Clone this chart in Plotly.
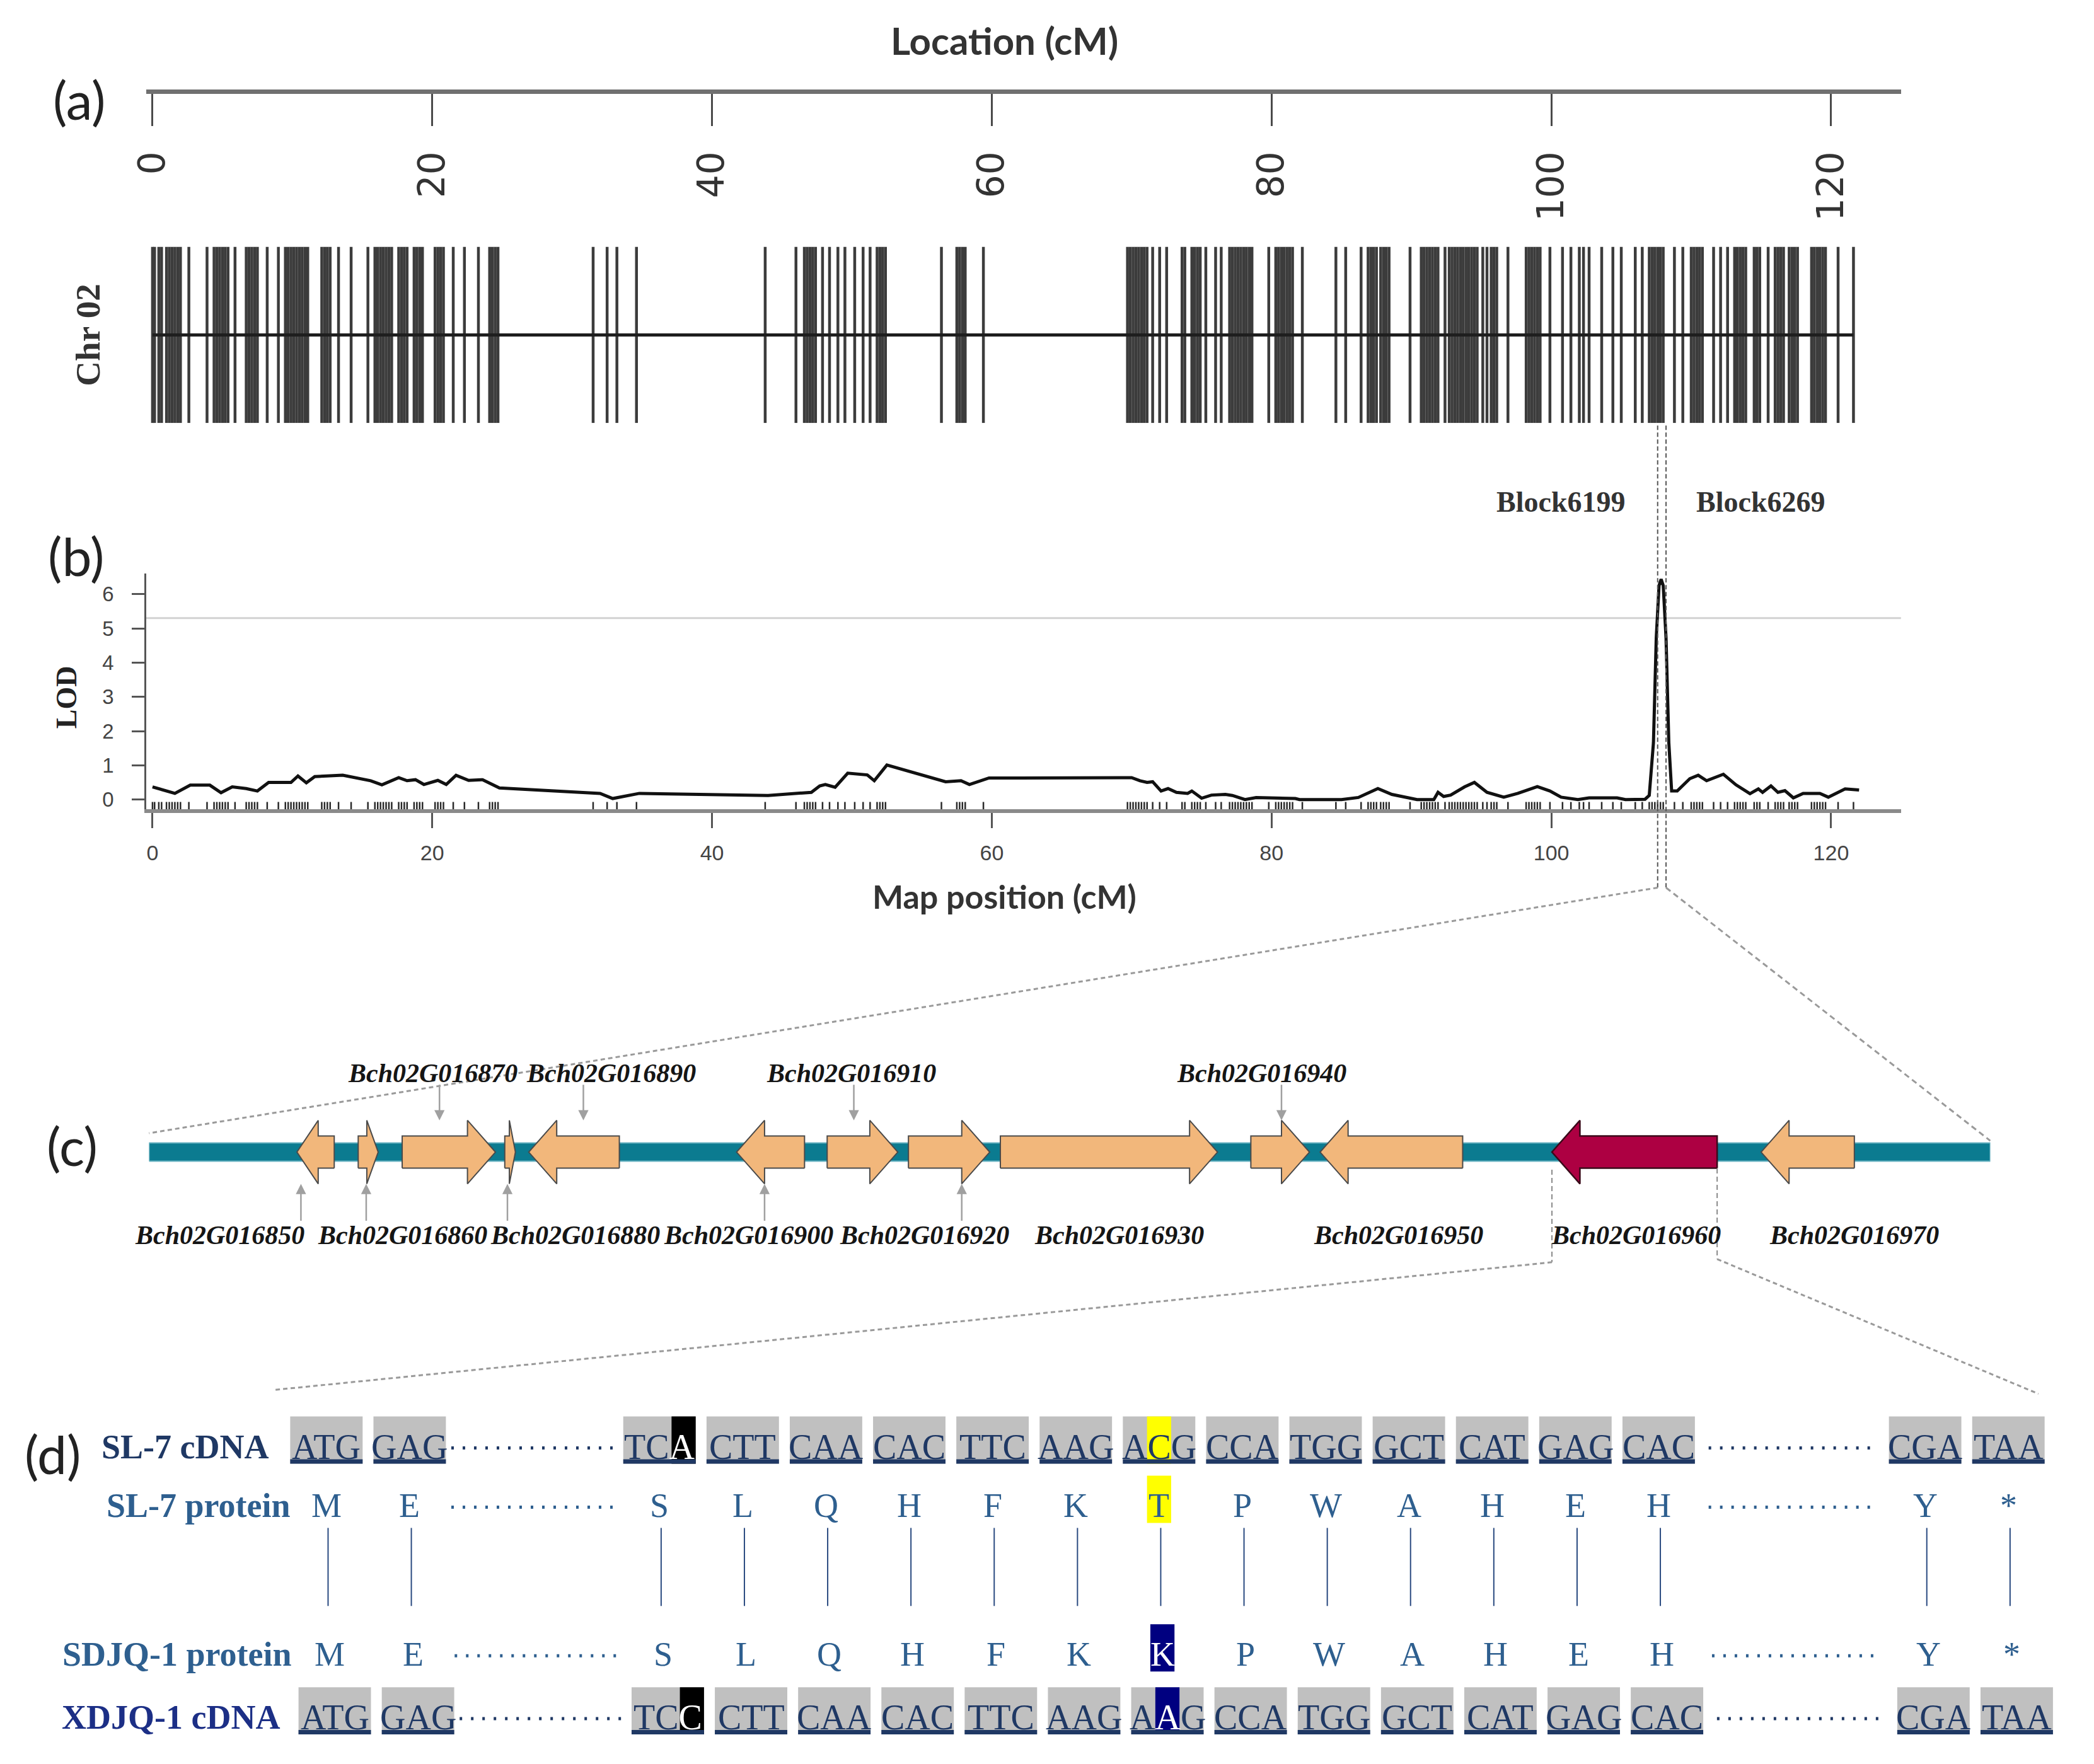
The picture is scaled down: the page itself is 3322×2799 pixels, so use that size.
import plotly.graph_objects as go

W, H = 3322, 2799
# compensation for the page offset observed in the rendered screenshot
OFF_X, OFF_Y = 29, 8


def px(x):
    return (x - OFF_X) / W


def py(y):
    return 1 - (y - OFF_Y) / H


# ---------------- (a)/(b) genetic map data ----------------
MARKERS_CM = [
    0.0, 0.15, 0.45, 0.65, 1.0, 1.2, 1.4, 1.6, 1.8, 2.0, 2.6, 3.9,
    4.4, 4.6, 4.8, 5.0, 5.2, 5.4, 5.9, 6.7, 6.9, 7.1, 7.3, 7.5, 8.2, 9.0,
    9.5, 9.7, 9.9, 10.1, 10.3, 10.5, 10.7, 10.9, 11.1, 12.1, 12.3, 12.5, 12.7,
    13.3, 14.2, 15.4, 15.9, 16.1, 16.3, 16.5, 16.7, 16.9, 17.1, 17.6, 17.8, 18.0, 18.2,
    18.7, 18.9, 19.1, 19.3, 20.2, 20.4, 20.6, 20.8, 21.5, 22.3, 23.3, 24.1, 24.3, 24.5, 24.7,
    31.5, 32.5, 33.2, 34.6, 43.8, 46.0, 46.6, 46.8, 47.0, 47.2, 47.4, 47.9, 48.4, 49.0, 49.5,
    50.2, 50.8, 51.3, 51.8, 52.0, 52.2, 52.4, 56.4, 57.5, 57.7, 57.9, 58.1, 59.4,
    69.7, 69.9, 70.1, 70.3, 70.5, 70.7, 70.9, 71.1, 71.5, 72.0, 72.5, 73.6, 73.8,
    74.3, 74.5, 74.7, 74.9, 75.3, 76.0, 76.4, 77.0, 77.2, 77.4, 77.6, 77.8, 78.0, 78.2,
    78.4, 78.6, 79.8, 80.3, 80.5, 80.7, 80.9, 81.1, 81.3, 81.5, 82.2, 84.6, 85.3, 86.4,
    86.9, 87.1, 87.3, 87.5, 87.8, 88.0, 88.2, 88.4, 89.9, 90.7, 90.9, 91.1, 91.3, 91.5,
    91.7, 91.9, 92.4, 92.7, 92.9, 93.1, 93.3, 93.5, 93.7, 93.9, 94.1, 94.3, 94.5, 94.7,
    95.1, 95.4, 95.7, 95.9, 96.1, 96.9, 98.2, 98.4, 98.6, 98.8, 99.0, 99.2, 99.9, 100.8,
    101.4, 102.0, 102.3, 102.7, 103.6, 104.4, 105.0, 106.0, 106.5, 107.0, 107.2, 107.4,
    107.6, 107.8, 108.0, 108.8, 109.4, 110.0, 110.2, 110.4, 110.6, 110.8, 111.6, 112.1,
    112.6, 113.1, 113.3, 113.5, 113.7, 113.9, 114.5, 114.7, 114.9, 115.5, 116.0, 116.2,
    116.4, 116.6, 117.0, 117.2, 117.4, 117.6, 118.6, 118.8, 119.0, 119.2, 119.4, 119.6,
    120.5, 121.6,
]
CHR_END_CM = 121.6
CHR_NAME = "Chr 02"
CM_TICKS = [0, 20, 40, 60, 80, 100, 120]

LOD_CM = [
    0.0, 0.7, 1.6, 2.7, 4.1, 4.9, 5.7, 6.7, 7.5, 8.3, 9.9, 10.4, 11.0, 11.6, 13.6,
    15.6, 16.4, 17.6, 18.2, 18.8, 19.4, 20.4, 21.0, 21.7, 22.6, 23.6, 24.8, 32.0,
    32.9, 34.8, 44.0, 47.1, 47.7, 48.1, 48.8, 49.7, 51.1, 51.6, 52.5, 56.7, 57.8,
    58.4, 59.8, 62.0, 70.0, 70.6, 71.1, 71.5, 72.1, 72.6, 73.2, 74.0, 74.3, 75.0,
    75.7, 76.7, 77.2, 78.1, 78.9, 81.7, 82.0, 85.0, 86.2, 87.6, 88.6, 90.4, 91.6,
    91.9, 92.3, 92.8, 93.8, 94.5, 95.4, 96.6, 97.6, 99.0, 99.9, 100.7, 101.9, 102.7,
    104.7, 105.3, 106.7, 107.0, 107.3, 107.5, 107.7, 107.85, 108.0, 108.2, 108.4,
    108.6, 109.0, 109.9, 110.5, 111.1, 111.5, 112.3, 113.2, 114.2, 114.8, 115.1,
    115.7, 116.2, 116.7, 117.3, 118.0, 119.2, 119.8, 121.0, 122.0,
]
LOD_VALUES = [
    0.37, 0.28, 0.18, 0.42, 0.42, 0.20, 0.37, 0.32, 0.25, 0.50, 0.50, 0.69, 0.49, 0.67, 0.71,
    0.55, 0.43, 0.64, 0.55, 0.58, 0.44, 0.56, 0.44, 0.71, 0.56, 0.58, 0.34, 0.18,
    0.03, 0.18, 0.12, 0.21, 0.40, 0.44, 0.36, 0.77, 0.72, 0.55, 1.01, 0.52, 0.55,
    0.44, 0.63, 0.63, 0.64, 0.55, 0.50, 0.52, 0.25, 0.32, 0.21, 0.18, 0.25, 0.04,
    0.13, 0.15, 0.12, 0.00, 0.06, 0.03, 0.00, 0.00, 0.06, 0.32, 0.15, 0.00, 0.00,
    0.21, 0.09, 0.13, 0.37, 0.50, 0.21, 0.07, 0.18, 0.38, 0.25, 0.07, 0.00, 0.05,
    0.05, 0.00, 0.01, 0.12, 1.66, 4.72, 6.25, 6.44, 6.25, 4.72, 1.66,
    0.25, 0.25, 0.61, 0.71, 0.55, 0.61, 0.74, 0.43, 0.17, 0.31, 0.21,
    0.40, 0.21, 0.26, 0.05, 0.18, 0.18, 0.07, 0.31, 0.28,
]
LOD_TICKS = [0, 1, 2, 3, 4, 5, 6]
LOD_THRESHOLD = 5.3
BLOCK_NAMES = ["Block6199", "Block6269"]
BLOCK_CM = [107.6, 108.2]

# ---------------- (c) gene models ----------------
REGION_KB = [0.0, 276.4]
GENE_IDS = ["Bch02G016850", "Bch02G016860", "Bch02G016870", "Bch02G016880",
            "Bch02G016890", "Bch02G016900", "Bch02G016910", "Bch02G016920",
            "Bch02G016930", "Bch02G016940", "Bch02G016950", "Bch02G016960",
            "Bch02G016970"]
GENE_START_KB = [22.2, 31.4, 38.0, 53.4, 57.0, 88.2, 101.8, 114.0, 127.8, 165.4, 175.8, 210.6, 242.0]
GENE_END_KB = [27.8, 34.4, 52.0, 55.0, 70.6, 98.4, 112.4, 126.2, 160.4, 174.2, 197.2, 235.4, 256.0]
GENE_STRAND = ["-", "+", "+", "+", "-", "-", "+", "+", "+", "+", "-", "-", "-"]
GENE_LABEL_KB = [10.6, 38.0, 42.6, 64.0, 69.4, 90.0, 105.4, 116.4, 145.6, 167.0, 187.6, 223.2, 256.0]
GENE_LABEL_SIDE = ["bottom", "bottom", "top", "bottom", "top", "bottom", "top", "bottom",
                   "bottom", "top", "bottom", "bottom", "bottom"]
GENE_POINTER_KB = [22.8, 32.6, 43.6, 53.8, 65.2, 92.4, 105.8, 122.0, None, 170.0, None, None, None]
CANDIDATE_GENE = "Bch02G016960"

# ---------------- (d) sequences ----------------
GAP = "…"
ROW_NAMES = ["SL-7 cDNA", "SL-7 protein", "SDJQ-1 protein", "XDJQ-1 cDNA"]
SL7_CDNA = ["ATG", "GAG", GAP, "TCA", "CTT", "CAA", "CAC", "TTC", "AAG", "ACG", "CCA",
            "TGG", "GCT", "CAT", "GAG", "CAC", GAP, "CGA", "TAA"]
SL7_PROTEIN = ["M", "E", GAP, "S", "L", "Q", "H", "F", "K", "T", "P", "W", "A", "H",
               "E", "H", GAP, "Y", "*"]
SDJQ1_PROTEIN = ["M", "E", GAP, "S", "L", "Q", "H", "F", "K", "K", "P", "W", "A", "H",
                 "E", "H", GAP, "Y", "*"]
XDJQ1_CDNA = ["ATG", "GAG", GAP, "TCC", "CTT", "CAA", "CAC", "TTC", "AAG", "AAG", "CCA",
              "TGG", "GCT", "CAT", "GAG", "CAC", GAP, "CGA", "TAA"]
# (codon index, base index, kind)
SL7_NT_MARKS = [(3, 2, "syn"), (9, 1, "snp")]
XDJQ1_NT_MARKS = [(3, 2, "syn"), (9, 1, "snp")]
# (residue index)
SL7_AA_MARKS = [9]
SDJQ1_AA_MARKS = [9]

# ---------------- layout constants ----------------
CM_RANGE = [-0.45, 125.0]
CM_PX0, CM_PX_PER = 239.5, 22.36
KB_PX0, KB_PX_PER = 234.0, 10.648
COL_PX0, COL_PX_PER = 517.5, 133.1
COL_STEP = 1.0
GAP_SPANS = [2.0, 2.2]
HEAD_KB = 4.2
BODY_H, HEAD_H, BAR_H = 0.364, 0.72, 0.207
ROW_Y = [2294, 2388, 2624, 2724]
ROW_SHIFT = [0.0, 0.0, 0.04, 0.1]
LABEL_RIGHT = [428, 462, 464, 445]

NAVY = "#1f3864"
STEEL = "#2e5f8f"
SERIF = "Liberation Serif"
SANS = "Liberation Sans"
TITLE = "Lato"

cm_dom = [px(CM_PX0 + CM_RANGE[0] * CM_PX_PER), px(CM_PX0 + CM_RANGE[1] * CM_PX_PER)]


def cm_to_paper(cm):
    return px(CM_PX0 + cm * CM_PX_PER)


def kb_to_paper(kb):
    return px(KB_PX0 + kb * KB_PX_PER)


fig = go.Figure()

# ---- (a) barcode ----
bx, by = [], []
for m in MARKERS_CM:
    bx += [m, m, None]
    by += [0, 1, None]
fig.add_trace(go.Scatter(x=bx, y=by, mode="lines", line=dict(color="#3c3c3c", width=4.5),
                         xaxis="x", yaxis="y", hoverinfo="skip", showlegend=False))
fig.add_trace(go.Scatter(x=[0, CHR_END_CM], y=[0.5, 0.5], mode="lines",
                         line=dict(color="#1e1e1e", width=5),
                         xaxis="x", yaxis="y", hoverinfo="skip", showlegend=False))
# carrier traces so the ruler axes (x5, x6) are drawn
for xa in ["x5", "x6"]:
    fig.add_trace(go.Scatter(x=CM_TICKS, y=[0.5] * len(CM_TICKS), mode="markers",
                             marker=dict(opacity=0), xaxis=xa, yaxis="y",
                             hoverinfo="skip", showlegend=False))

# ---- (b) LOD ----
fig.add_trace(go.Scatter(x=CM_RANGE, y=[LOD_THRESHOLD, LOD_THRESHOLD], mode="lines",
                         line=dict(color="#d2d2d2", width=3),
                         xaxis="x2", yaxis="y2", hoverinfo="skip", showlegend=False))
rx, ry = [], []
for m in MARKERS_CM:
    rx += [m, m, None]
    ry += [-0.07, -0.29, None]
fig.add_trace(go.Scatter(x=rx, y=ry, mode="lines", line=dict(color="#2a2a2a", width=2.5),
                         xaxis="x2", yaxis="y2", hoverinfo="skip", showlegend=False))
fig.add_trace(go.Scatter(x=LOD_CM, y=LOD_VALUES, mode="lines",
                         line=dict(color="#111111", width=5),
                         xaxis="x2", yaxis="y2", hoverinfo="skip", showlegend=False))

# ---- (c) gene models ----
fig.add_trace(go.Scatter(x=[REGION_KB[0], REGION_KB[1], REGION_KB[1], REGION_KB[0], REGION_KB[0]],
                         y=[-BAR_H, -BAR_H, BAR_H, BAR_H, -BAR_H], mode="lines", fill="toself",
                         fillcolor="#0b7b90", line=dict(color="#6bb3c2", width=2),
                         xaxis="x3", yaxis="y3", hoverinfo="skip", showlegend=False))


def arrow_poly(s, e, strand):
    L = e - s
    h = min(HEAD_KB, 0.57 * L)
    if strand == "+":
        xs = [s, e - h, e - h, e, e - h, e - h, s, s]
    else:
        xs = [e, s + h, s + h, s, s + h, s + h, e, e]
    ys = [-BODY_H, -BODY_H, -HEAD_H, 0, HEAD_H, BODY_H, BODY_H, -BODY_H]
    return xs, ys


ox, oy = [], []
for gid, s, e, st in zip(GENE_IDS, GENE_START_KB, GENE_END_KB, GENE_STRAND):
    xs, ys = arrow_poly(s, e, st)
    if gid == CANDIDATE_GENE:
        fig.add_trace(go.Scatter(x=xs, y=ys, mode="lines", fill="toself", fillcolor="#ad0042",
                                 line=dict(color="#3a0a1a", width=2.5),
                                 xaxis="x3", yaxis="y3", hoverinfo="skip", showlegend=False))
    else:
        ox += xs + [None]
        oy += ys + [None]
fig.add_trace(go.Scatter(x=ox, y=oy, mode="lines", fill="toself", fillcolor="#f2b77b",
                         line=dict(color="#4a4a4a", width=2),
                         xaxis="x3", yaxis="y3", hoverinfo="skip", showlegend=False))


# ---- (d) column positions ----
def column_positions(tokens):
    pos, cur, prev, gi = [], 0.0, None, 0
    for t in tokens:
        if t == GAP:
            w = GAP_SPANS[min(gi, len(GAP_SPANS) - 1)]
            gi += 1
        else:
            w = COL_STEP
        if prev is not None:
            cur += 0.5 * prev + 0.5 * w
        pos.append(cur)
        prev = w
    return pos


col_pos = column_positions(SL7_CDNA)
fig.add_trace(go.Scatter(x=col_pos, y=[0] * len(col_pos), mode="markers",
                         marker=dict(opacity=0), xaxis="x4", yaxis="y4",
                         hoverinfo="skip", showlegend=False))

shapes = []
ann = []

# ---- dashed block lines and zoom guides ----
for cm in BLOCK_CM:
    shapes.append(dict(type="line", xref="x", yref="paper", x0=cm, x1=cm, y0=py(676), y1=py(1410),
                       line=dict(color="#555555", width=2, dash="7px,4px")))
shapes.append(dict(type="line", xref="paper", yref="paper",
                   x0=cm_to_paper(BLOCK_CM[0]), y0=py(1410), x1=kb_to_paper(REGION_KB[0]), y1=py(1800),
                   line=dict(color="#9a9a9a", width=3, dash="7px,5px")))
shapes.append(dict(type="line", xref="paper", yref="paper",
                   x0=cm_to_paper(BLOCK_CM[1]), y0=py(1410), x1=kb_to_paper(REGION_KB[1]), y1=py(1812),
                   line=dict(color="#9a9a9a", width=3, dash="9px,6px")))
ci = GENE_IDS.index(CANDIDATE_GENE)
for kb, ytop, ybot, xend, yend in [(GENE_START_KB[ci], 1858, 2005, 432, 2208),
                                   (GENE_END_KB[ci], 1856, 2000, 3254, 2214)]:
    shapes.append(dict(type="line", xref="x3", yref="paper", x0=kb, x1=kb, y0=py(ytop), y1=py(ybot),
                       line=dict(color="#8a8a8a", width=2, dash="8px,5px")))
    shapes.append(dict(type="line", xref="paper", yref="paper", x0=kb_to_paper(kb), y0=py(ybot),
                       x1=px(xend), y1=py(yend), line=dict(color="#9a9a9a", width=3, dash="7px,5px")))

# ---- gene labels & pointers ----
for gid, lkb, side, pkb in zip(GENE_IDS, GENE_LABEL_KB, GENE_LABEL_SIDE, GENE_POINTER_KB):
    ann.append(dict(x=lkb, xref="x3", y=py(1705 if side == "top" else 1962), yref="paper",
                    text=f"<b><i>{gid}</i></b>", showarrow=False,
                    font=dict(family=SERIF, size=42, color="#151515"),
                    xanchor="center", yanchor="middle"))
    if pkb is not None:
        if side == "top":
            ann.append(dict(x=pkb, xref="x3", y=HEAD_H, yref="y3", ax=0, ay=-58, text="",
                            showarrow=True, arrowhead=2, arrowsize=1.3, arrowwidth=2.5,
                            arrowcolor="#a0a0a0"))
        else:
            ann.append(dict(x=pkb, xref="x3", y=-HEAD_H, yref="y3", ax=0, ay=60, text="",
                            showarrow=True, arrowhead=2, arrowsize=1.3, arrowwidth=2.5,
                            arrowcolor="#a0a0a0"))

# ---- (d) sequence rows ----
NT_COLORS = {"syn": ("#000000", "#ffffff"), "snp_SL": ("#ffff00", NAVY), "snp_XD": ("#000080", "#ffffff")}
BASE_OFFSET = [-0.29, 0.0, 0.29]


def text_at(x, y, txt, color, size):
    ann.append(dict(x=x, xref="x4", y=py(y + 4), yref="paper", text=txt, showarrow=False,
                    font=dict(family=SERIF, size=size, color=color),
                    xanchor="center", yanchor="middle"))


def dots(c, y, color):
    shapes.append(dict(type="line", xref="x4", yref="paper", x0=c - 1.0, x1=c + 1.0,
                       y0=py(y + 6), y1=py(y + 6), line=dict(color=color, width=5, dash="4px,14px")))


for r, tokens, marks, snpkind in [(0, SL7_CDNA, SL7_NT_MARKS, "snp_SL"), (3, XDJQ1_CDNA, XDJQ1_NT_MARKS, "snp_XD")]:
    y = ROW_Y[r]
    pos = column_positions(tokens)
    mk = {(ci_, bi): k for ci_, bi, k in marks}
    for i, (t, c) in enumerate(zip(tokens, pos)):
        c += ROW_SHIFT[r]
        if t == GAP:
            dots(c, y, NAVY)
            continue
        shapes.append(dict(type="rect", xref="x4", yref="paper", x0=c - 0.435, x1=c + 0.435,
                           y0=py(y + 31), y1=py(y - 44), fillcolor="#c0c0c0", line=dict(width=0),
                           layer="below"))
        parts = []
        for k, ch in enumerate(t):
            kind = mk.get((i, k))
            if kind:
                key = "syn" if kind == "syn" else snpkind
                bg, fg = NT_COLORS[key]
                lx = c + BASE_OFFSET[k]
                shapes.append(dict(type="rect", xref="x4", yref="paper", x0=lx - 0.145, x1=lx + 0.145,
                                   y0=py(y + 31), y1=py(y - 44), fillcolor=bg, line=dict(width=0),
                                   layer="below"))
                parts.append(f"<span style='color:{fg}'>{ch}</span>")
            else:
                parts.append(ch)
        text_at(c, y, "".join(parts), NAVY, 56)
        shapes.append(dict(type="rect", xref="x4", yref="paper", x0=c - 0.435, x1=c + 0.435,
                           y0=py(y + 31), y1=py(y + 24), fillcolor=NAVY, line=dict(width=0)))

for r, tokens, marks, bg, fg in [(1, SL7_PROTEIN, SL7_AA_MARKS, "#ffff00", STEEL),
                                 (2, SDJQ1_PROTEIN, SDJQ1_AA_MARKS, "#000080", "#ffffff")]:
    y = ROW_Y[r]
    pos = column_positions(tokens)
    for i, (t, c) in enumerate(zip(tokens, pos)):
        c += ROW_SHIFT[r]
        if t == GAP:
            dots(c, y, STEEL)
            continue
        col = STEEL
        if i in marks:
            shapes.append(dict(type="rect", xref="x4", yref="paper", x0=c - 0.145, x1=c + 0.145,
                               y0=py(y + 31), y1=py(y - 44), fillcolor=bg, line=dict(width=0),
                               layer="below"))
            col = fg
        text_at(c, y, t, col, 54)

# connectors between protein rows
for t, c in zip(SL7_PROTEIN, column_positions(SL7_PROTEIN)):
    if t == GAP:
        continue
    shapes.append(dict(type="line", xref="x4", yref="paper", x0=c + 0.02, x1=c + 0.02,
                       y0=py(2427), y1=py(2551), line=dict(color="#2a4a80", width=2)))

# row labels
ROW_LABEL_COLORS = [NAVY, STEEL, STEEL, "#1c2f86"]
for name, y, xr, colr in zip(ROW_NAMES, ROW_Y, LABEL_RIGHT, ROW_LABEL_COLORS):
    ann.append(dict(x=px(xr), xref="paper", y=py(y + 4), yref="paper", text=f"<b>{name}</b>",
                    showarrow=False, font=dict(family=SERIF, size=54, color=colr),
                    xanchor="right", yanchor="middle"))

# ---- titles and panel labels ----
ann += [
    dict(x=px(1601), y=py(64), xref="paper", yref="paper", text="<b>Location (cM)</b>", showarrow=False,
         font=dict(family=TITLE, size=60, color="#333333"), xanchor="center", yanchor="middle"),
    dict(x=px(1601), y=py(1424), xref="paper", yref="paper", text="<b>Map position (cM)</b>", showarrow=False,
         font=dict(family=TITLE, size=52, color="#333333"), xanchor="center", yanchor="middle"),
    dict(x=px(136), y=py(532), xref="paper", yref="paper", text=f"<b>{CHR_NAME}</b>", showarrow=False,
         textangle=-90, font=dict(family=SERIF, size=55, color="#333333"), xanchor="center", yanchor="middle"),
    dict(x=px(102), y=py(1107), xref="paper", yref="paper", text="<b>LOD</b>", showarrow=False,
         textangle=-90, font=dict(family=SERIF, size=46, color="#222222"), xanchor="center", yanchor="middle"),
    dict(x=BLOCK_CM[0], xref="x", xshift=-50, y=py(797), yref="paper", text=f"<b>{BLOCK_NAMES[0]}</b>",
         showarrow=False, font=dict(family=SERIF, size=46, color="#333333"), xanchor="right", yanchor="middle"),
    dict(x=BLOCK_CM[1], xref="x", xshift=46, y=py(797), yref="paper", text=f"<b>{BLOCK_NAMES[1]}</b>",
         showarrow=False, font=dict(family=SERIF, size=46, color="#333333"), xanchor="left", yanchor="middle"),
]
for lab, (lx, ly) in zip(["(a)", "(b)", "(c)", "(d)"], [(123, 158), (117, 882), (111, 1819), (80, 2309)]):
    ann.append(dict(x=px(lx), y=py(ly), xref="paper", yref="paper", text=lab, showarrow=False,
                    font=dict(family=TITLE, size=84, color="#222222"), xanchor="center", yanchor="middle"))

fig.update_layout(
    width=W, height=H, margin=dict(l=0, r=0, t=0, b=0),
    paper_bgcolor="white", plot_bgcolor="rgba(0,0,0,0)", showlegend=False,
    xaxis=dict(domain=cm_dom, range=CM_RANGE, visible=False, anchor="y"),
    yaxis=dict(domain=[py(672), py(392)], range=[0, 1], visible=False, anchor="x"),
    xaxis5=dict(overlaying="x", anchor="free", position=py(145), side="top", range=CM_RANGE,
                showline=True, linecolor="#707070", linewidth=7, ticks="inside", ticklen=51,
                tickwidth=2.5, tickcolor="#4a4a4a", tickvals=CM_TICKS, showticklabels=False,
                showgrid=False, zeroline=False),
    xaxis6=dict(overlaying="x", anchor="free", position=py(228), side="bottom", range=CM_RANGE,
                showline=False, ticks="", tickvals=CM_TICKS, tickangle=-90,
                tickfont=dict(family="DejaVu Sans", size=58, color="#333333"),
                showgrid=False, zeroline=False),
    xaxis2=dict(domain=cm_dom, range=CM_RANGE, anchor="y2", showline=True, linecolor="#8a8a8a",
                linewidth=6, ticks="outside", ticklen=24, tickwidth=2.5, tickcolor="#555555",
                tickvals=CM_TICKS, tickfont=dict(family=SANS, size=34, color="#444444"),
                ticklabelstandoff=10, showgrid=False, zeroline=False),
    yaxis2=dict(domain=[py(1285.8), py(911.2)], range=[-0.29, 6.6], anchor="x2", showline=True,
                linecolor="#555555", linewidth=2.5, ticks="outside", ticklen=20, tickwidth=2.5,
                tickcolor="#555555", tickvals=LOD_TICKS, ticklabelstandoff=22,
                tickfont=dict(family=SANS, size=33, color="#444444"),
                showgrid=False, zeroline=False),
    xaxis3=dict(domain=[kb_to_paper(REGION_KB[0]), kb_to_paper(REGION_KB[1])], range=REGION_KB,
                anchor="y3", visible=False),
    yaxis3=dict(domain=[py(1900), py(1760)], range=[-1, 1], anchor="x3", visible=False),
    xaxis4=dict(domain=[0, 1], range=[-(COL_PX0 - OFF_X) / COL_PX_PER, (W - COL_PX0 + OFF_X) / COL_PX_PER],
                anchor="y4", visible=False),
    yaxis4=dict(domain=[0.0, 0.2], range=[-1, 1], anchor="x4", visible=False),
    shapes=shapes, annotations=ann,
)

fig.write_html("out.html")
